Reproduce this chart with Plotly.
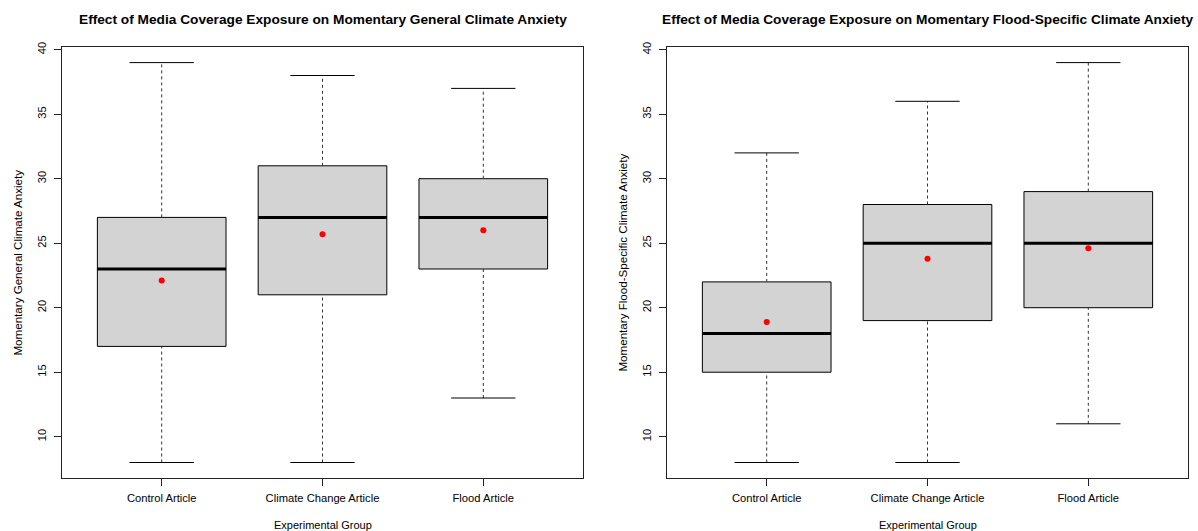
import plotly.graph_objects as go

# Experimental groups (x axis categories)
groups = ["Control Article", "Climate Change Article", "Flood Article"]

# Momentary general climate anxiety: five-number summaries and group means
general_min = [8, 8, 13]
general_q1 = [17, 21, 23]
general_median = [23, 27, 27]
general_q3 = [27, 31, 30]
general_max = [39, 38, 37]
general_mean = [22.1, 25.7, 26.0]

# Momentary flood-specific climate anxiety
flood_min = [8, 8, 11]
flood_q1 = [15, 19, 20]
flood_median = [18, 25, 25]
flood_q3 = [22, 28, 29]
flood_max = [32, 36, 39]
flood_mean = [18.9, 23.8, 24.6]

y_ticks = [10, 15, 20, 25, 30, 35, 40]

W, H = 1198, 531
FONT = "Liberation Sans, Arial, sans-serif"
BOX_HALF = 0.4
STAPLE_HALF = 0.2

fig = go.Figure()


def add_panel(xa, ya, lo, q1, med, q3, hi, mean):
    for i in range(len(groups)):
        c = i + 1
        # box body
        fig.add_trace(go.Scatter(
            x=[c - BOX_HALF, c + BOX_HALF, c + BOX_HALF, c - BOX_HALF, c - BOX_HALF],
            y=[q1[i], q1[i], q3[i], q3[i], q1[i]],
            mode="lines", fill="toself", fillcolor="#D3D3D3",
            line=dict(color="#000000", width=1),
            xaxis=xa, yaxis=ya, hoverinfo="skip", showlegend=False))
        # dashed whiskers
        for a, b in ((lo[i], q1[i]), (q3[i], hi[i])):
            fig.add_trace(go.Scatter(
                x=[c, c], y=[a, b], mode="lines",
                line=dict(color="#333333", width=1, dash="3px,3px"),
                xaxis=xa, yaxis=ya, hoverinfo="skip", showlegend=False))
        # staples
        for v in (lo[i], hi[i]):
            fig.add_trace(go.Scatter(
                x=[c - STAPLE_HALF, c + STAPLE_HALF], y=[v, v], mode="lines",
                line=dict(color="#000000", width=1),
                xaxis=xa, yaxis=ya, hoverinfo="skip", showlegend=False))
        # median
        fig.add_trace(go.Scatter(
            x=[c - BOX_HALF, c + BOX_HALF], y=[med[i], med[i]], mode="lines",
            line=dict(color="#000000", width=3),
            xaxis=xa, yaxis=ya, hoverinfo="skip", showlegend=False))
    # group means
    fig.add_trace(go.Scatter(
        x=[1, 2, 3], y=mean, mode="markers",
        marker=dict(color="#FF0000", size=6),
        xaxis=xa, yaxis=ya, showlegend=False))


add_panel("x", "y", general_min, general_q1, general_median, general_q3, general_max, general_mean)
add_panel("x2", "y2", flood_min, flood_q1, flood_median, flood_q3, flood_max, flood_mean)

y_bottom, y_top = 478, 42
ydom = [(H - y_bottom) / H, (H - y_top) / H]
panels = [(62, 583), (667, 1188)]

xax = dict(range=[0.38, 3.62], tickvals=[1, 2, 3], ticktext=groups,
           showgrid=False, zeroline=False, showline=True, mirror=True,
           linecolor="#222222", linewidth=1, ticks="outside", ticklen=7,
           ticklabelstandoff=2,
           tickcolor="#222222", tickfont=dict(family=FONT, size=11.2, color="#000000"))
yax = dict(range=[6.76, 40.24], tickvals=y_ticks, tickangle=-90,
           showgrid=False, zeroline=False, showline=True, mirror=True,
           linecolor="#222222", linewidth=1, ticks="outside", ticklen=7,
           ticklabelstandoff=4,
           tickcolor="#222222", tickfont=dict(family=FONT, size=11.2, color="#000000"))

fig.update_layout(
    width=W, height=H, margin=dict(l=0, r=0, t=0, b=0),
    paper_bgcolor="white", plot_bgcolor="white",
    xaxis=dict(xax, domain=[panels[0][0] / W, panels[0][1] / W], anchor="y"),
    yaxis=dict(yax, domain=ydom, anchor="x"),
    xaxis2=dict(xax, domain=[panels[1][0] / W, panels[1][1] / W], anchor="y2"),
    yaxis2=dict(yax, domain=ydom, anchor="x2"),
)

titles = ["Effect of Media Coverage Exposure on Momentary General Climate Anxiety",
          "Effect of Media Coverage Exposure on Momentary Flood-Specific Climate Anxiety"]
ytitles = ["Momentary General Climate Anxiety", "Momentary Flood-Specific Climate Anxiety"]

for (x0, x1), t, yt in zip(panels, titles, ytitles):
    cx = (x0 + x1) / 2 / W
    fig.add_annotation(text="<b>" + t + "</b>", x=cx, y=(H - 15) / H,
                       xref="paper", yref="paper", showarrow=False,
                       xanchor="center", yanchor="middle",
                       font=dict(family=FONT, size=13.7, color="#000000"))
    fig.add_annotation(text="Experimental Group", x=cx, y=(H - 525) / H,
                       xref="paper", yref="paper", showarrow=False,
                       xanchor="center", yanchor="middle",
                       font=dict(family=FONT, size=11, color="#000000"))
    fig.add_annotation(text=yt, x=(x0 - 44) / W, y=(H - (y_top + y_bottom) / 2) / H,
                       xref="paper", yref="paper", showarrow=False, textangle=-90,
                       xanchor="center", yanchor="middle",
                       font=dict(family=FONT, size=11.6, color="#000000"))

fig.write_html("out.html")
